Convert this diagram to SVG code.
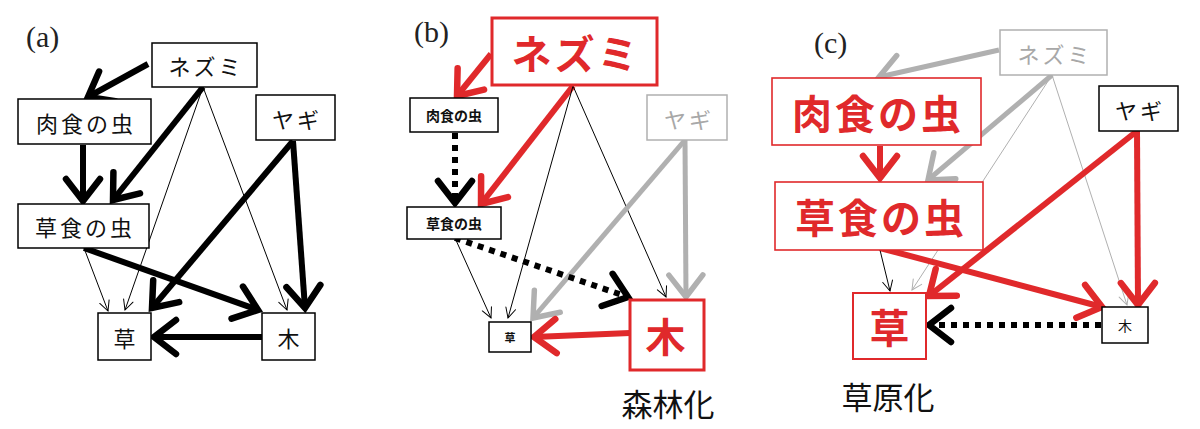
<svg xmlns="http://www.w3.org/2000/svg" width="1200" height="429" viewBox="0 0 1200 429">
<style>
.bx{fill:#fff;stroke:#000;stroke-width:1.5}
.bxr{fill:#fff;stroke:#e0292b;stroke-width:3}
.bxr1{fill:#fff;stroke:#e0292b;stroke-width:1.6}
.bxg{fill:#fff;stroke:#b0b0b0;stroke-width:1.5}
.t{font-family:"Noto Sans CJK JP","Noto Sans",sans-serif;text-anchor:middle;dominant-baseline:central}
.n{font-size:22px;fill:#111;letter-spacing:3px}
.s{font-size:14px;font-weight:bold;fill:#111}
.big{font-size:40px;font-weight:bold;fill:#e0292b;letter-spacing:3px}
.gt{font-size:22px;fill:#a8a8a8;letter-spacing:3px}
.lbl{font-family:"Liberation Serif",serif;font-size:30px;fill:#222}
.cap{font-family:"Noto Sans CJK JP",sans-serif;font-size:31px;fill:#111;text-anchor:middle}
.k{fill:none;stroke:#000;stroke-width:6}
.kd{fill:none;stroke:#000;stroke-width:6;stroke-dasharray:6 6}
.r{fill:none;stroke:#e0292b;stroke-width:6}
.g{fill:none;stroke:#b0b0b0;stroke-width:5}
.th{fill:none;stroke:#000;stroke-width:1}
.tg{fill:none;stroke:#b0b0b0;stroke-width:1}
.mk{fill:none;stroke-dasharray:none;stroke-linejoin:miter;stroke-linecap:round}
</style>
<defs>
<marker id="hk" markerUnits="userSpaceOnUse" orient="auto" overflow="visible" markerWidth="10" markerHeight="10"><path class="mk" d="M-22,-17 L0,0 L-22,17" stroke="#000" stroke-width="6.5"/></marker>
<marker id="hr" markerUnits="userSpaceOnUse" orient="auto" overflow="visible" markerWidth="10" markerHeight="10"><path class="mk" d="M-22,-17 L0,0 L-22,17" stroke="#e0292b" stroke-width="6.5"/></marker>
<marker id="hg" markerUnits="userSpaceOnUse" orient="auto" overflow="visible" markerWidth="10" markerHeight="10"><path class="mk" d="M-22,-17 L0,0 L-22,17" stroke="#b0b0b0" stroke-width="5.5"/></marker>
<marker id="ht" markerUnits="userSpaceOnUse" orient="auto" overflow="visible" markerWidth="10" markerHeight="10"><path class="mk" d="M-10,-5 L0,0 L-10,5" stroke="#000" stroke-width="1"/></marker>
<marker id="htg" markerUnits="userSpaceOnUse" orient="auto" overflow="visible" markerWidth="10" markerHeight="10"><path class="mk" d="M-10,-5 L0,0 L-10,5" stroke="#b0b0b0" stroke-width="1"/></marker>
</defs>
<rect width="1200" height="429" fill="#fff"/>
<text class="lbl" x="26" y="47">(a)</text>
<text class="lbl" x="414" y="42">(b)</text>
<text class="lbl" x="814" y="53">(c)</text>
<g id="connectors">
<!-- panel a -->
<path class="k" d="M148,64 L88,97" marker-end="url(#hk)"/>
<path class="k" d="M83,145 L83,201" marker-end="url(#hk)"/>
<path class="k" d="M203,87 L113,200" marker-end="url(#hk)"/>
<path class="th" d="M203,87 L125,310" marker-end="url(#ht)"/>
<path class="th" d="M203,87 L287,310" marker-end="url(#ht)"/>
<path class="k" d="M293,141 L152,308" marker-end="url(#hk)"/>
<path class="k" d="M293,141 L305,308" marker-end="url(#hk)"/>
<path class="k" d="M84,248 L258,310" marker-end="url(#hk)"/>
<path class="th" d="M84,248 L108,311" marker-end="url(#ht)"/>
<path class="k" d="M262,337 L154,337" marker-end="url(#hk)"/>
<!-- panel b -->
<path class="r" d="M491,54 L457,96" marker-end="url(#hr)"/>
<path class="kd" d="M455,133 L455,203" marker-end="url(#hk)"/>
<path class="r" d="M573,86 L481,204" marker-end="url(#hr)"/>
<path class="th" d="M573,86 L508,318" marker-end="url(#ht)"/>
<path class="th" d="M573,86 L666,297" marker-end="url(#ht)"/>
<path class="g" d="M685,140 L533,318" marker-end="url(#hg)"/>
<path class="g" d="M685,140 L686,297" marker-end="url(#hg)"/>
<path class="kd" d="M455,238 L628,297" marker-end="url(#hk)"/>
<path class="th" d="M455,238 L491,318" marker-end="url(#ht)"/>
<path class="r" d="M630,333 L534,337" marker-end="url(#hr)"/>
<!-- panel c -->
<path class="g" d="M999,50 L879,77" marker-end="url(#hg)"/>
<path class="r" d="M880,146 L880,178" marker-end="url(#hr)"/>
<path class="g" d="M1052,75 L928,180" marker-end="url(#hg)"/>
<path class="tg" d="M1052,75 L912,290" marker-end="url(#htg)"/>
<path class="tg" d="M1052,75 L1127,305" marker-end="url(#htg)"/>
<path class="r" d="M1137,131 L929,296" marker-end="url(#hr)"/>
<path class="r" d="M1137,131 L1138,305" marker-end="url(#hr)"/>
<path class="r" d="M880,248 L1102,307" marker-end="url(#hr)"/>
<path class="th" d="M880,250 L890,291" marker-end="url(#ht)"/>
<path class="kd" d="M1101,325 L929,325" marker-end="url(#hk)"/>
</g>
<!-- panel a nodes -->
<g id="a-nezumi"><rect class="bx" x="152" y="43" width="105" height="44"/><text class="t n" x="206" y="65">ネズミ</text></g>
<g id="a-nikushoku"><rect class="bx" x="18" y="99" width="133" height="45"/><text class="t n" x="86" y="121.5">肉食の虫</text></g>
<g id="a-yagi"><rect class="bx" x="256" y="95" width="79" height="45"/><text class="t n" x="297" y="117.5">ヤギ</text></g>
<g id="a-soushoku"><rect class="bx" x="18" y="204" width="131" height="44"/><text class="t n" x="85" y="226">草食の虫</text></g>
<g id="a-kusa"><rect class="bx" x="98" y="313" width="53" height="47"/><text class="t n" x="126" y="336.5">草</text></g>
<g id="a-ki"><rect class="bx" x="262" y="313" width="53" height="47"/><text class="t n" x="290" y="336.5">木</text></g>
<!-- panel b nodes -->
<g id="b-nezumi"><rect class="bxr" x="492" y="18" width="165" height="67"/><text class="t big" x="576" y="52">ネズミ</text></g>
<g id="b-nikushoku"><rect class="bx" x="410" y="98" width="88" height="34"/><text class="t s" x="454" y="115">肉食の虫</text></g>
<g id="b-yagi"><rect class="bxg" x="647" y="95" width="80" height="45"/><text class="t gt" x="689" y="117.5">ヤギ</text></g>
<g id="b-soushoku"><rect class="bx" x="407" y="207" width="94" height="32"/><text class="t s" x="454" y="223">草食の虫</text></g>
<g id="b-kusa"><rect class="bx" x="489" y="322" width="42" height="30"/><text class="t s" x="510" y="337" style="font-size:11px">草</text></g>
<g id="b-ki"><rect class="bxr" x="630" y="300" width="74" height="70"/><text class="t big" x="667" y="335">木</text></g>
<text class="cap" x="668" y="416">森林化</text>
<!-- panel c nodes -->
<g id="c-nezumi"><rect class="bxg" x="1000" y="30" width="107" height="45"/><text class="t gt" x="1055" y="52.5">ネズミ</text></g>
<g id="c-nikushoku"><rect class="bxr1" x="772" y="78" width="209" height="67"/><text class="t big" x="878" y="112">肉食の虫</text></g>
<g id="c-yagi"><rect class="bx" x="1099" y="86" width="79" height="45"/><text class="t n" x="1140" y="108.5">ヤギ</text></g>
<g id="c-soushoku"><rect class="bxr1" x="775" y="182" width="208" height="68"/><text class="t big" x="881" y="216">草食の虫</text></g>
<g id="c-kusa"><rect class="bxr" x="853" y="293" width="73" height="66" style="stroke-width:2"/><text class="t big" x="891" y="326">草</text></g>
<g id="c-ki"><rect class="bx" x="1102" y="307" width="46" height="36"/><text class="t s" x="1125" y="325" style="font-weight:normal">木</text></g>
<text class="cap" x="888" y="409">草原化</text>
</svg>
